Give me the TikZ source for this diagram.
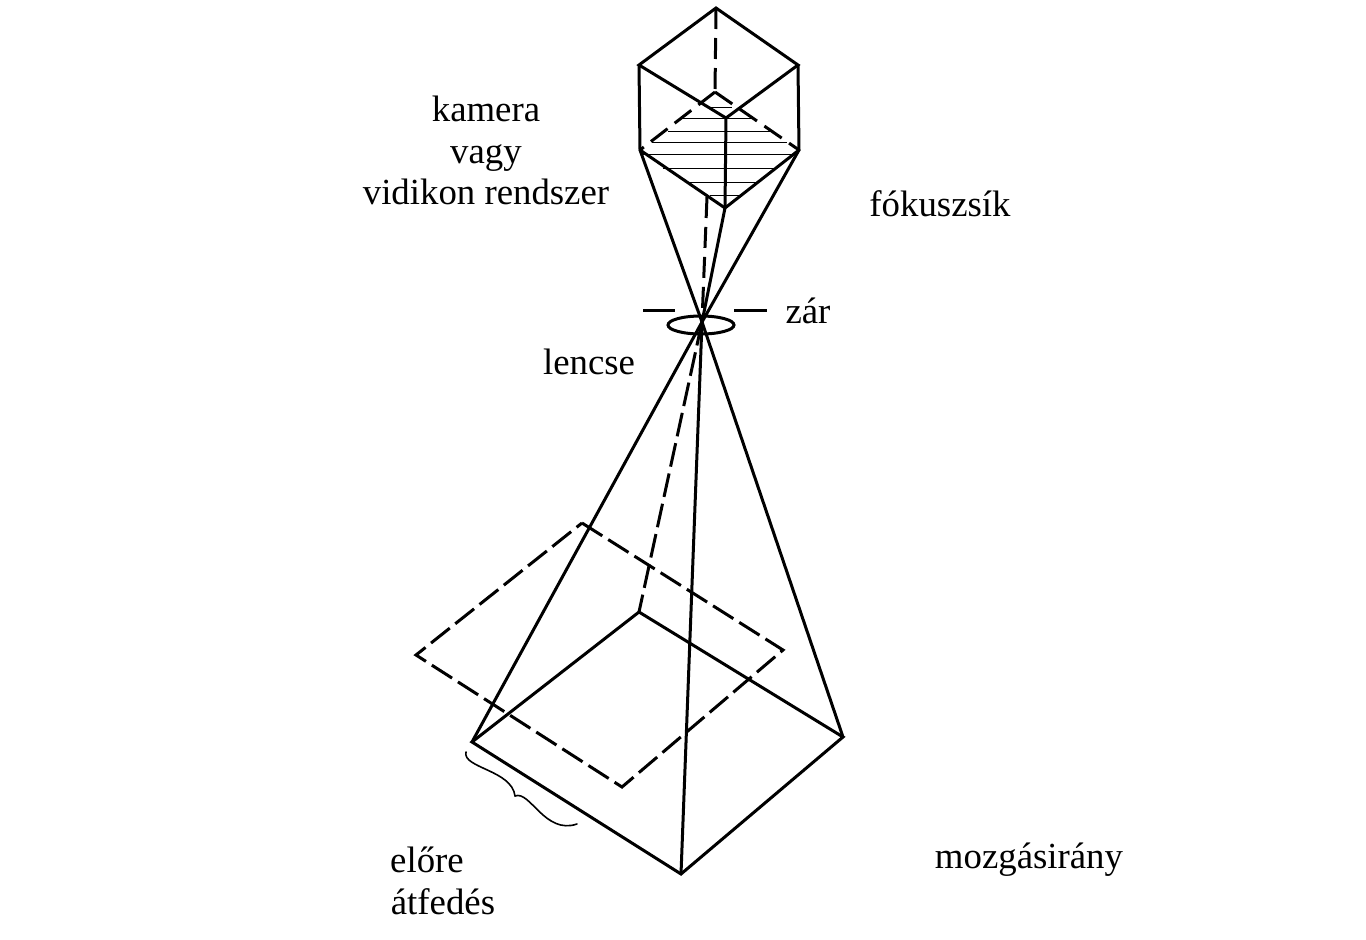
\documentclass[tikz,border=0pt]{standalone}
\usepackage{fontspec}
\usetikzlibrary{shapes.geometric}
\setmainfont{Liberation Serif}
\tikzset{
 ln/.style={line width=3pt,line join=miter,black},
 dsh/.style={ln,dash pattern=on 21pt off 9pt},
 dshlong/.style={ln,dash pattern=on 24pt off 7pt},
 hatch/.style={line width=0.9pt,black},
 brace/.style={line width=1.6pt,black,line cap=round},
 lens/.style={ln,draw,ellipse,inner sep=0pt,minimum width=66pt,minimum height=18pt},
 lbl/.style={inner sep=0pt,anchor=base,font=\fontsize{36.8}{42}\selectfont}
}
\begin{document}
\begin{tikzpicture}[x=1pt,y=-1pt]
\useasboundingbox (0,0) rectangle (1366,940);
% camera
\coordinate (T) at (716,8);
\coordinate (L) at (639,65);
\coordinate (R) at (798,65);
\coordinate (F) at (726,118);
\coordinate (B) at (715,92);
\coordinate (LB) at (640,150);
\coordinate (RB) at (799,150);
\coordinate (FB) at (725,208);
\coordinate (O) at (702,322);
\coordinate (A) at (472,742);
\coordinate (C) at (639,612);
\coordinate (D) at (843,737);
\coordinate (E) at (681,874);
\coordinate (P1) at (582,523);
\coordinate (P2) at (783,650);
\coordinate (P3) at (622,787);
\coordinate (P4) at (416,655);
\coordinate (Q) at (707,197);
% hatching
\foreach \y/\a/\b in {107/708/732,118/680/753,131/668/772,142/652/787,154/643/793,168/663/777,182/688/758,195/710/742}
  \draw[hatch] (\a,\y) -- (\b,\y);
% cube
\draw[ln] (L) -- (T) -- (R) -- (F) -- cycle;
\draw[ln] (L) -- (LB) -- (FB) -- (RB) -- (R);
\draw[ln] (F) -- (FB);
\draw[dsh] (T) -- (B);
\draw[dsh] (B) -- (LB);
\draw[dsh] (B) -- (RB);
% rays
\draw[ln] (LB) -- (O);
\draw[ln] (RB) -- (O);
\draw[ln] (FB) -- (O);
\draw[dsh] (Q) -- (O);
% shutter and lens
\coordinate (S1) at (643,310);
\coordinate (S2) at (675,310);
\coordinate (S3) at (734,310);
\coordinate (S4) at (767,310);
\draw[ln] (S1) -- (S2);
\draw[ln] (S3) -- (S4);
\node[lens] (lensnode) at (701,325) {};
% pyramid
\draw[ln] (O) -- (A);
\draw[ln] (O) -- (D);
\draw[ln] (O) -- (E);
\draw[dshlong] (O) -- (C);
\draw[ln] (A) -- (C) -- (D) -- (E) -- cycle;
% overlap rectangle
\draw[dshlong] (P1) -- (P2) -- (P3) -- (P4) -- cycle;
% brace
\coordinate (BR1) at (466,752);
\coordinate (BR2) at (515,796);
\coordinate (BR3) at (577,824);
\draw[brace] (BR1) .. controls (462,768) and (512,770) .. (BR2);
\draw[brace] (BR2) .. controls (530,790) and (545,835) .. (BR3);
% labels
\node[lbl] (n1) at (486,121) {kamera};
\node[lbl] (n2) at (486,163) {vagy};
\node[lbl] (n3) at (486,204) {vidikon rendszer};
\node[lbl] (n4) at (940,216) {fókuszsík};
\node[lbl] (n5) at (808,323) {zár};
\node[lbl] (n6) at (589,374) {lencse};
\node[lbl] (n7) at (427,872) {előre};
\node[lbl] (n8) at (443,914) {átfedés};
\node[lbl] (n9) at (1029,868) {mozgásirány};
\end{tikzpicture}
\end{document}
